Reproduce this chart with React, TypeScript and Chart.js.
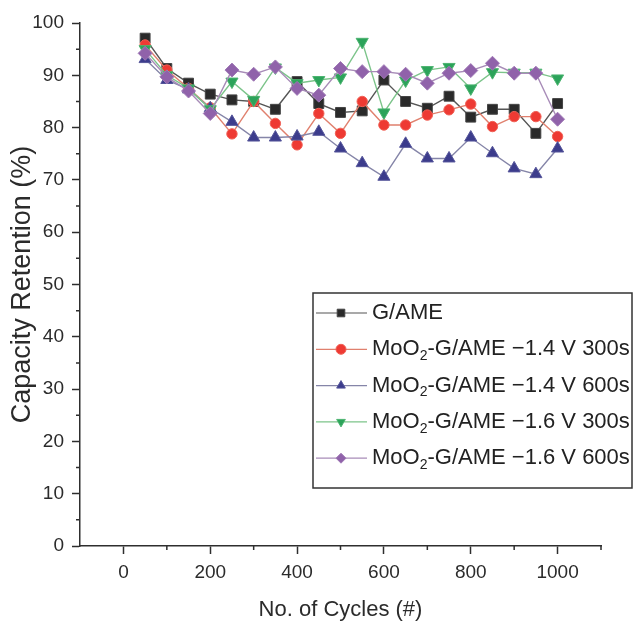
import React, { useEffect, useRef } from "react";
import { Chart, registerables } from "chart.js";

Chart.register(...registerables);

const cycles = [50, 100, 150, 200, 250, 300, 350, 400, 450, 500, 550, 600, 650, 700, 750, 800, 850, 900, 950, 1000];
const gAme = [97.1, 91.3, 88.5, 86.4, 85.3, 85.0, 83.5, 88.8, 84.6, 82.9, 83.2, 89.1, 85.0, 83.7, 86.0, 82.0, 83.5, 83.5, 78.9, 84.6];
const mo14v300 = [95.8, 91.0, 87.5, 83.8, 78.8, 85.0, 80.8, 76.7, 82.7, 78.9, 85.0, 80.5, 80.5, 82.4, 83.4, 84.5, 80.2, 82.1, 82.1, 78.3];
const mo14v600 = [93.1, 89.1, 87.3, 83.7, 81.1, 78.1, 78.1, 78.3, 79.2, 76.0, 73.2, 70.6, 76.9, 74.1, 74.1, 78.1, 75.1, 72.2, 71.1, 76.0];
const mo16v300 = [95.0, 90.0, 87.5, 83.5, 88.8, 85.3, 91.5, 88.5, 89.1, 89.6, 96.4, 82.9, 89.0, 91.0, 91.6, 87.5, 90.6, 90.5, 90.5, 89.4];
const mo16v600 = [94.2, 89.7, 87.0, 82.7, 91.0, 90.2, 91.6, 87.5, 86.2, 91.3, 90.7, 90.7, 90.2, 88.5, 90.4, 90.9, 92.3, 90.4, 90.4, 81.6];

// "_2" marks a subscript 2
const seriesLabels = [
  "G/AME",
  "MoO_2-G/AME \u22121.4 V 300s",
  "MoO_2-G/AME \u22121.4 V 600s",
  "MoO_2-G/AME \u22121.6 V 300s",
  "MoO_2-G/AME \u22121.6 V 600s",
];

const xMajorTicks = [0, 200, 400, 600, 800, 1000];
const xMinorTicks = [100, 300, 500, 700, 900, 1100];
const yMajorTicks = [0, 10, 20, 30, 40, 50, 60, 70, 80, 90, 100];
const yMinorTicks = [5, 15, 25, 35, 45, 55, 65, 75, 85, 95];

const xTitle = "No. of Cycles (#)";
const yTitle = "Capacity Retention (%)";

const REGULAR = "'Liberation Sans', Arial, sans-serif";
const AXIS = "#2e2e2e";

const minorTickPlugin = {
  id: "minorTicks",
  afterDraw(chart: any) {
    const ctx = chart.ctx;
    const xs = chart.scales.x;
    const ys = chart.scales.y;
    const area = chart.chartArea;
    ctx.save();
    ctx.strokeStyle = AXIS;
    ctx.lineWidth = 1.5;
    ctx.beginPath();
    xMinorTicks.forEach((v) => {
      const px = xs.getPixelForValue(v);
      ctx.moveTo(px, area.bottom);
      ctx.lineTo(px, area.bottom + 4);
    });
    yMinorTicks.forEach((v) => {
      const py = ys.getPixelForValue(v);
      ctx.moveTo(area.left - 4, py);
      ctx.lineTo(area.left, py);
    });
    ctx.stroke();
    ctx.restore();
  },
};

function drawMarker(ctx: any, style: string, rotation: number, x: number, y: number, r: number, fill: string, stroke: string) {
  ctx.save();
  ctx.translate(x, y);
  ctx.rotate((rotation * Math.PI) / 180);
  ctx.beginPath();
  if (style === "rect") {
    ctx.rect(-r, -r, 2 * r, 2 * r);
  } else if (style === "circle") {
    ctx.arc(0, 0, r, 0, Math.PI * 2);
  } else if (style === "triangle") {
    ctx.moveTo(0, -r);
    ctx.lineTo(r * 0.866, r * 0.5);
    ctx.lineTo(-r * 0.866, r * 0.5);
    ctx.closePath();
  } else if (style === "rectRot") {
    ctx.moveTo(0, -r);
    ctx.lineTo(r, 0);
    ctx.lineTo(0, r);
    ctx.lineTo(-r, 0);
    ctx.closePath();
  }
  ctx.fillStyle = fill;
  ctx.fill();
  ctx.strokeStyle = stroke;
  ctx.lineWidth = 1;
  ctx.stroke();
  ctx.restore();
}

const insideLegendPlugin = {
  id: "insideLegend",
  afterDraw(chart: any) {
    const ctx = chart.ctx;
    const area = chart.chartArea;
    const left = area.left + 233;
    const top = area.top + 270;
    const right = chart.width - 2;
    const bottom = area.top + 465;
    ctx.save();
    ctx.fillStyle = "#ffffff";
    ctx.fillRect(left, top, right - left, bottom - top);
    ctx.strokeStyle = "#333";
    ctx.lineWidth = 1.5;
    ctx.strokeRect(left, top, right - left, bottom - top);
    const rowH = 36.3;
    const firstY = top + 20;
    chart.data.datasets.forEach((ds: any, i: number) => {
      const y = firstY + i * rowH;
      ctx.strokeStyle = ds.borderColor;
      ctx.lineWidth = 1.2;
      ctx.beginPath();
      ctx.moveTo(left + 3, y);
      ctx.lineTo(left + 54, y);
      ctx.stroke();
      drawMarker(ctx, ds.pointStyle, ds.rotation || 0, left + 28, y, ds.pointStyle === "rect" ? 3.8 : 5, ds.pointBackgroundColor, ds.pointBorderColor);
      const label: string = seriesLabels[i];
      const parts = label.split("_2");
      let tx = left + 59;
      ctx.fillStyle = "#222";
      ctx.textBaseline = "middle";
      ctx.textAlign = "left";
      ctx.font = "22px " + REGULAR;
      ctx.fillText(parts[0], tx, y);
      tx += ctx.measureText(parts[0]).width;
      if (parts.length > 1) {
        ctx.font = "14px " + REGULAR;
        ctx.fillText("2", tx, y + 7);
        tx += ctx.measureText("2").width;
        ctx.font = "22px " + REGULAR;
        ctx.fillText(parts[1], tx, y);
      }
    });
    ctx.restore();
  },
};

function makeDataset(label: string, data: number[], style: string, rotation: number, radius: number, fill: string, stroke: string, line: string, order: number) {
  return {
    label,
    data: cycles.map((c, i) => ({ x: c, y: data[i] })),
    pointStyle: style,
    rotation,
    pointRadius: radius,
    pointBackgroundColor: fill,
    pointBorderColor: stroke,
    pointBorderWidth: 1,
    borderColor: line,
    borderWidth: 1.4,
    backgroundColor: fill,
    showLine: true,
    fill: false,
    tension: 0,
    order,
  };
}

export default function App() {
  const canvasRef = useRef<HTMLCanvasElement | null>(null);

  useEffect(() => {
    if (!canvasRef.current) return;
    const chart = new Chart(canvasRef.current, {
      type: "scatter",
      data: {
        datasets: [
          makeDataset(seriesLabels[0], gAme, "rect", 0, 7, "#2a2a2a", "#444", "#555555", 5),
          makeDataset(seriesLabels[1], mo14v300, "circle", 0, 5.2, "#ee3a33", "#f06055", "#e0806e", 4),
          makeDataset(seriesLabels[2], mo14v600, "triangle", 0, 7, "#3c3c8c", "#55559a", "#8585a8", 3),
          makeDataset(seriesLabels[3], mo16v300, "triangle", 180, 7, "#2ca35a", "#4cb470", "#7cc48a", 2),
          makeDataset(seriesLabels[4], mo16v600, "rectRot", 0, 7, "#9062aa", "#a07ab6", "#a88cb8", 1),
        ] as any,
      },
      options: {
        animation: false,
        responsive: true,
        maintainAspectRatio: false,
        layout: { padding: { top: 23, right: 33, left: 0, bottom: 0 } },
        plugins: {
          legend: { display: false },
          tooltip: { enabled: false },
        },
        scales: {
          x: {
            type: "linear",
            min: -100,
            max: 1100,
            afterBuildTicks: (s: any) => {
              s.ticks = xMajorTicks.map((v) => ({ value: v }));
            },
            afterFit: (s: any) => {
              s.height = 79;
            },
            grid: {
              drawOnChartArea: false,
              drawTicks: true,
              tickLength: 8,
              tickColor: AXIS,
              tickWidth: 1.5,
            },
            border: { display: true, color: AXIS, width: 1.5 },
            ticks: {
              callback: (v: any) => String(v),
              font: { family: REGULAR, size: 19 },
              color: "#2b2b2b",
              padding: 7,
              maxRotation: 0,
            },
            title: {
              display: true,
              text: xTitle,
              font: { family: REGULAR, size: 22 },
              color: "#2b2b2b",
              padding: { top: 0, bottom: 2 },
            },
          },
          y: {
            type: "linear",
            min: 0,
            max: 100,
            afterBuildTicks: (s: any) => {
              s.ticks = yMajorTicks.map((v) => ({ value: v }));
            },
            afterFit: (s: any) => {
              s.width = 80;
            },
            grid: {
              drawOnChartArea: false,
              drawTicks: true,
              tickLength: 8,
              tickColor: AXIS,
              tickWidth: 1.5,
            },
            border: { display: true, color: AXIS, width: 1.5 },
            ticks: {
              callback: (v: any) => String(v),
              font: { family: REGULAR, size: 19 },
              color: "#2b2b2b",
              padding: 8,
            },
            title: {
              display: true,
              text: yTitle,
              font: { family: REGULAR, size: 27 },
              color: "#2b2b2b",
              padding: { top: 6, bottom: 0 },
            },
          },
        },
      } as any,
      plugins: [minorTickPlugin, insideLegendPlugin],
    });
    return () => chart.destroy();
  }, []);

  return (
    <div style={{ position: "fixed", left: 0, top: 0, width: 634, height: 625, background: "#ffffff" }}>
      <canvas ref={canvasRef} />
    </div>
  );
}
